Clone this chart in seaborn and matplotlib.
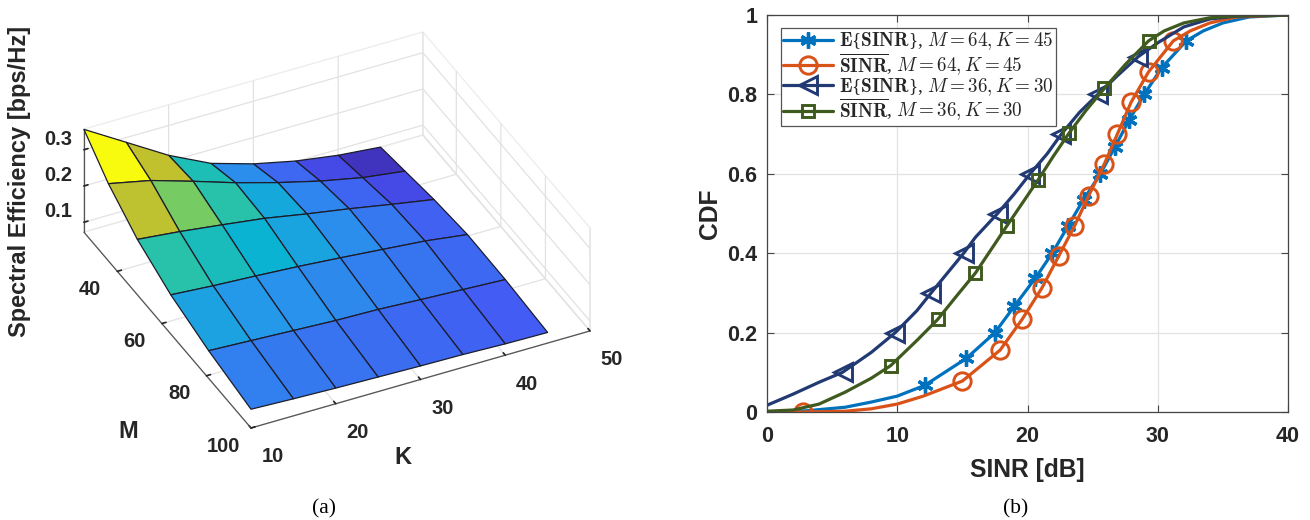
import numpy as np
import matplotlib
matplotlib.use("Agg")
import matplotlib.pyplot as plt
from matplotlib.colors import LinearSegmentedColormap, Normalize
from mpl_toolkits.mplot3d import proj3d
import seaborn as sns

# ---- panel (a) data
K_vals = [10, 15, 20, 25, 30, 35, 40, 45]
M_vals = [25, 36, 49, 64, 81, 100]
SE_M25 = [.3563, .2870, .2177, .1620, .1272, .1016, .0840, .0730]
SE_M36 = [.2856, .2609, .2252, .1877, .1547, .1254, .1015, .0859]
SE_M49 = [.2256, .2136, .1988, .1832, .1620, .1427, .1215, .1013]
SE_M64 = [.1807, .1722, .1657, .1582, .1489, .1386, .1284, .1127]
SE_M81 = [.1490, .1434, .1377, .1320, .1290, .1225, .1168, .1110]
SE_M100 = [.1245, .1197, .1159, .1129, .1100, .1080, .1040, .1020]

# ---- panel (b) data: curve samples and marker samples
blue_curve_x = [0, 3, 6, 8, 10, 33.5, 35, 37, 40]
blue_curve_y = [0, .003, .012, .025, .04, .96, .98, .995, 1]
blue_mark_x = [12.1, 15.3, 17.5, 19, 20.6, 21.9, 23.1, 24.3, 25.6, 26.7, 27.8, 28.96, 30.3, 32.2]
blue_mark_y = [.067, .135, .2, .267, .337, .4, .468, .535, .6, .667, .735, .8, .867, .935]

orange_curve_x = [0, 6, 8, 10, 12, 32.5, 34, 36, 40]
orange_curve_y = [0, .002, .008, .02, .04, .96, .98, .995, 1]
orange_mark_x = [2.8, 15, 17.9, 19.6, 21.1, 22.4, 23.6, 24.7, 25.9, 26.9, 27.95, 29.3, 31.2]
orange_mark_y = [0, .078, .156, .234, .312, .393, .468, .545, .625, .70, .78, .857, .935]

navy_curve_x = [0, 2, 4, 8, 11.5, 16, 19, 21.5, 24, 27, 30, 32, 34, 36, 40]
navy_curve_y = [.017, .045, .075, .15, .255, .44, .55, .65, .755, .85, .93, .97, .99, .997, 1]
navy_mark_x = [5.8, 9.85, 12.6, 15.1, 17.7, 20.2, 22.6, 25.4, 28.5]
navy_mark_y = [.1, .2, .3, .4, .5, .6, .7, .8, .895]

green_curve_x = [0, 2, 4, 6, 8, 11.5, 14.5, 22, 24.5, 27.5, 30.5, 32, 34, 36, 40]
green_curve_y = [.002, .005, .02, .05, .085, .18, .29, .645, .76, .875, .96, .98, .993, .998, 1]
green_mark_x = [9.5, 13.1, 16, 18.4, 20.8, 23.2, 25.9, 29.3]
green_mark_y = [.117, .233, .35, .468, .584, .703, .815, .935]

x_ticks_b = [0, 10, 20, 30, 40]
y_ticks_b = [0, .2, .4, .6, .8, 1]
y_tick_labels_b = ["0", "0.2", "0.4", "0.6", "0.8", "1"]
legend_labels = [
    r"$\mathbf{E}${$\mathbf{SINR}$}, $M = 64, K = 45$",
    r"$\overline{\mathbf{SINR}}$, $M = 64, K = 45$",
    r"$\mathbf{E}${$\mathbf{SINR}$}, $M = 36, K = 30$",
    r"$\overline{\mathbf{SINR}}$, $M = 36, K = 30$",
]

sns.set_theme(style="white")
TXT = "#262626"
plt.rcParams.update({
    "font.family": ["Liberation Sans", "DejaVu Sans"],
    "mathtext.fontset": "cm",
    "grid.color": "#e2e2e2",
    "grid.linewidth": 0.9,
})

W, H = 1310, 520
fig = plt.figure(figsize=(W / 100, H / 100), dpi=100, facecolor="white")

# ---------------- panel (a)
parula = LinearSegmentedColormap.from_list("parula", [
    (0.00, (.2422, .1504, .6603)), (.125, (.2796, .3247, .9619)), (.34, (.1540, .5902, .9218)),
    (.45, (.0297, .7082, .8163)), (.55, (.1700, .7700, .6400)), (.67, (.4800, .8000, .3700)),
    (.77, (.8000, .7500, .1500)), (.88, (.9856, .8000, .2000)), (1.0, (.9763, .9831, .0538))])
Z = np.array([SE_M25, SE_M36, SE_M49, SE_M64, SE_M81, SE_M100])
KK, MM = np.meshgrid(K_vals, M_vals)
face = parula(Normalize(Z.min(), Z.max())(Z))

S0 = 500
ax3 = fig.add_axes([0.1, 0.02, S0 / W, S0 / H], projection="3d", proj_type="ortho",
                   facecolor="none")
ax3.plot_surface(KK, MM, Z, facecolors=face, rstride=1, cstride=1, shade=False,
                 edgecolor="#1c1c2a", linewidth=0.9, antialiased=True)
ax3.set_xlim(10, 50, view_margin=0)
ax3.set_ylim(100, 25, view_margin=0)
ax3.set_zlim(.0727, .357, view_margin=0)
ax3.set_box_aspect((378, 377, 126.4))
ax3.view_init(elev=35.4, azim=-116.3)
ax3.set_xticks([10, 20, 30, 40, 50])
ax3.set_yticks([40, 60, 80, 100])
ax3.set_zticks([.1, .2, .3])
ax3.set_zticklabels(["0.1", "0.2", "0.3"])
for axis in (ax3.xaxis, ax3.yaxis, ax3.zaxis):
    axis.pane.set_facecolor((1, 1, 1, 0))
    axis.pane.set_edgecolor("#dddddd")
    axis.line.set_color("#555555")
    axis.line.set_linewidth(0.9)
    axis._axinfo["tick"]["inward_factor"] = 0.0
    axis._axinfo["tick"]["outward_factor"] = 0.15
    axis._axinfo["tick"]["color"] = "#555555"
ax3.tick_params(labelsize=14.5, labelcolor=TXT)
ax3.tick_params(axis="x", pad=5)
ax3.tick_params(axis="y", pad=8)
ax3.tick_params(axis="z", pad=2)
for lab in ax3.get_xticklabels() + ax3.get_yticklabels() + ax3.get_zticklabels():
    lab.set_fontweight("bold")
for lab in ax3.get_xticklabels():
    lab.set_ha("left")
for lab in ax3.get_yticklabels():
    lab.set_va("center_baseline")
for lab in ax3.get_zticklabels():
    lab.set_va("baseline")
ax3.text2D(403 / W, 1 - 457 / H, "K", transform=fig.transFigure, fontsize=17, fontweight="bold",
           color=TXT, ha="center", va="center")
ax3.text2D(128 / W, 1 - 432 / H, "M", transform=fig.transFigure, fontsize=17, fontweight="bold",
           color=TXT, ha="center", va="center")
ax3.text2D(20 / W, 1 - 181 / H, "Spectral Efficiency [bps/Hz]", transform=fig.transFigure,
           fontsize=17, fontweight="bold", color=TXT, rotation=90, ha="center", va="center")

# fit the axes box so that the floor corners land where they do in the reference
fig.canvas.draw()
def project(k, m, z):
    xp, yp, _ = proj3d.proj_transform(k, m, z, ax3.get_proj())
    return ax3.transData.transform((xp, yp))
p_front = project(10, 100, .0727)
p_right = project(50, 100, .0727)
scale = 339 / (p_right[0] - p_front[0])
bb = ax3.get_position()
cx, cy = bb.x0 * W + bb.width * W / 2, bb.y0 * H + bb.height * H / 2
S1 = S0 * scale
new_cx = 251 + (cx - p_front[0]) * scale
new_cy = (H - 428) + (cy - p_front[1]) * scale
ax3.set_position([(new_cx - S1 / 2) / W, (new_cy - S1 / 2) / H, S1 / W, S1 / H])

# ---------------- panel (b)
ax = fig.add_axes([767 / W, (H - 412) / H, 521 / W, 397 / H])
series = [
    (blue_curve_x, blue_curve_y, blue_mark_x, blue_mark_y, "#0072BD", (6, 2, 0), 11.5, 2.4),
    (orange_curve_x, orange_curve_y, orange_mark_x, orange_mark_y, "#D95319", "o", 12.5, 2.1),
    (navy_curve_x, navy_curve_y, navy_mark_x, navy_mark_y, "#223A73", "<", 13.5, 2.1),
    (green_curve_x, green_curve_y, green_mark_x, green_mark_y, "#3F5A1E", "s", 9, 2.1),
]
for (cx_, cy_, mx_, my_, col, mk, ms, mew), lab in zip(series, legend_labels):
    xs = np.array(cx_ + mx_, dtype=float)
    ys = np.array(cy_ + my_, dtype=float)
    order = np.argsort(xs)
    xs, ys = xs[order], ys[order]
    every = [int(np.flatnonzero(xs == v)[0]) for v in mx_]
    sns.lineplot(x=xs, y=ys, ax=ax, color=col, linewidth=2.3, marker=mk, markevery=every,
                 markersize=ms, markeredgewidth=mew, markeredgecolor=col,
                 markerfacecolor="none", sort=False, errorbar=None, label=lab)
ax.set_xlim(0, 40)
ax.set_ylim(0, 1)
ax.set_xticks(x_ticks_b)
ax.set_yticks(y_ticks_b)
ax.set_yticklabels(y_tick_labels_b)
ax.grid(True)
ax.set_axisbelow(True)
ax.tick_params(direction="in", length=5, width=0.8, color="#444444", labelsize=15.5,
               labelcolor=TXT, top=True, right=True, bottom=True, left=True)
ax.tick_params(axis="x", pad=10)
ax.tick_params(axis="y", pad=7)
for lab in ax.get_xticklabels() + ax.get_yticklabels():
    lab.set_fontweight("bold")
for sp in ax.spines.values():
    sp.set_color("#444444")
    sp.set_linewidth(0.9)
    sp.set_visible(True)
ax.set_xlabel("SINR [dB]", fontsize=17.7, fontweight="bold", color=TXT, labelpad=8)
ax.set_ylabel("CDF", fontsize=17.7, fontweight="bold", color=TXT, labelpad=4)
leg = ax.legend(loc="upper left", bbox_to_anchor=(14 / 521, 1 - 13 / 397), borderaxespad=0,
                prop={"family": "Liberation Serif", "size": 13.8}, frameon=True, fancybox=False,
                framealpha=1, edgecolor="#555555", labelspacing=-0.07, handlelength=2.6,
                handletextpad=0.3, borderpad=0.12)
leg.get_frame().set_linewidth(0.9)

fig.text(324 / W, 1 - 509 / H, "(a)", family="Liberation Serif", fontsize=15.5, ha="center",
         va="center", color="black")
fig.text(1016 / W, 1 - 509 / H, "(b)", family="Liberation Serif", fontsize=15.5, ha="center",
         va="center", color="black")
fig.savefig("out.png", dpi=100)
